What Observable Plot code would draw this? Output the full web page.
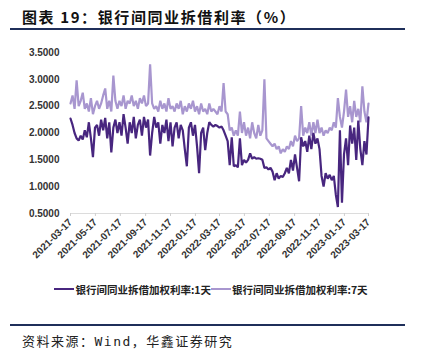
<!DOCTYPE html>
<html><head><meta charset="utf-8">
<script src="https://cdn.jsdelivr.net/npm/d3@7"></script>
<script src="https://cdn.jsdelivr.net/npm/@observablehq/plot@0.6"></script>
<style>
body{margin:0;background:#fff;}
#wrap{position:relative;width:422px;height:354px;overflow:hidden;font-family:"Noto Sans CJK SC",sans-serif;}
#title{position:absolute;left:22px;top:6px;font-size:15px;font-weight:bold;letter-spacing:1.6px;color:#111;white-space:nowrap;}
.rule{position:absolute;left:10px;width:395px;height:2px;background:#1f2f5a;}
#chart{position:absolute;left:0;top:35px;}
#legend{position:absolute;left:0;width:422px;top:280px;text-align:center;font-size:10.5px;font-weight:bold;color:#222;white-space:nowrap;}
.sw{display:inline-block;width:20px;height:2px;vertical-align:middle;margin-right:1px;}
#src{position:absolute;left:22px;top:331px;font-size:13px;letter-spacing:1.5px;color:#222;white-space:nowrap;font-family:"DejaVu Sans Mono","Noto Sans CJK SC",monospace;}
</style></head>
<body><div id="wrap">
<div id="title">图表 19：银行间同业拆借利率（%）</div>
<div class="rule" style="top:28px"></div>
<div id="chart"></div>
<div id="legend"></div>
<div class="rule" style="top:324px"></div>
<div id="src">资料来源：Wind，华鑫证券研究</div>
</div>
<script>
const seriesNames = ["银行间同业拆借加权利率:1天", "银行间同业拆借加权利率:7天"];
const seriesColors = ["#48267f", "#a896cf"];
const startDate = "2021-03-17";
const stepDays = 5;
const tickLabels = ["2021-03-17","2021-05-17","2021-07-17","2021-09-17","2021-11-17","2022-01-17","2022-03-17","2022-05-17","2022-07-17","2022-09-17","2022-11-17","2023-01-17","2023-03-17"];
const yTicks = [0.5,1.0,1.5,2.0,2.5,3.0,3.5];
const rate1d = [2.27,2.15,2.0,1.9,1.86,1.95,1.88,2.05,1.92,2.2,1.9,1.55,2.1,2.15,1.95,2.25,2.05,2.28,1.9,2.2,
1.64,2.1,2.25,2.0,2.2,1.95,2.35,2.1,1.8,2.2,2.0,2.3,1.9,2.15,2.25,1.95,2.3,2.1,2.25,1.58,
2.0,2.3,2.1,2.2,1.8,2.15,2.0,2.25,1.85,2.2,1.75,2.1,2.2,1.9,2.15,2.05,1.7,1.38,2.1,2.2,
1.95,2.15,1.75,1.25,2.0,2.1,1.68,2.0,2.2,2.15,2.12,2.15,2.13,2.1,2.12,2.05,1.95,1.85,1.4,1.92,
1.38,1.4,1.36,1.9,1.4,1.5,1.45,1.5,1.62,1.52,1.55,1.52,1.53,1.52,1.5,1.35,1.36,1.32,1.35,1.28,
1.12,1.25,1.15,1.2,1.18,1.25,1.35,1.25,1.5,1.3,1.6,1.35,1.1,1.92,1.75,1.85,1.65,1.95,1.7,2.0,
1.8,1.9,1.7,1.2,1.0,1.25,1.15,1.22,1.12,1.2,0.85,0.62,2.05,0.7,1.6,1.9,1.4,2.14,1.8,2.1,
1.5,2.23,1.7,1.4,1.85,1.6,2.29];
const rate7d = [2.55,2.7,2.45,2.98,2.5,2.6,2.75,2.45,2.55,2.4,2.65,2.35,2.5,2.6,2.45,2.55,2.7,2.83,2.45,2.6,
2.4,3.07,2.6,2.45,2.6,2.5,2.7,2.45,2.6,2.55,2.7,2.5,2.6,2.45,2.65,2.55,2.7,2.5,2.55,3.28,
2.55,2.45,2.5,2.4,2.6,2.45,2.55,2.4,2.65,2.45,2.5,2.4,2.55,2.45,2.6,2.35,2.5,2.4,2.55,2.45,
2.6,2.4,2.5,2.35,2.55,2.4,2.45,2.35,2.55,2.4,2.45,2.4,2.35,2.5,2.4,2.93,2.4,2.35,2.05,2.1,
1.95,2.05,1.95,2.4,2.0,2.2,1.95,2.1,1.9,2.2,2.0,1.9,2.15,1.95,2.05,3.0,1.9,1.85,1.8,1.75,
1.8,1.7,1.75,1.62,1.7,1.65,1.75,1.7,1.85,1.75,1.95,1.85,1.9,2.5,1.95,2.1,2.0,2.2,1.95,2.2,
2.0,2.25,2.0,2.1,1.95,2.05,2.0,2.1,2.05,2.2,2.1,2.65,2.3,2.1,2.4,2.81,2.3,2.5,2.2,2.6,
2.3,2.45,2.2,2.87,2.4,2.2,2.55];

const parse = d3.utcParse("%Y-%m-%d");
const t0 = parse(startDate);
const rows = [];
[rate1d, rate7d].forEach((arr, s) => arr.forEach((v, i) => rows.push({date: d3.utcDay.offset(t0, i*stepDays), value: v, series: seriesNames[s]})));
const tickDates = tickLabels.map(parse);

const chart = Plot.plot({
  width: 422, height: 240,
  marginLeft: 70, marginRight: 54, marginTop: 17, marginBottom: 62,
  style: {fontFamily: "'Liberation Sans', Arial, sans-serif", background: "transparent"},
  x: {type: "utc", domain: [tickDates[0], tickDates[tickDates.length-1]]},
  y: {domain: [0.5, 3.5]},
  color: {domain: seriesNames, range: seriesColors},
  marks: [
    Plot.ruleY([0.5], {stroke: "#dcdcdc"}),
    Plot.axisX({ticks: tickDates, tickFormat: d3.utcFormat("%Y-%m-%d"), tickRotate: -45, tickSize: 3, tickPadding: 4, stroke: "#cfcfcf", fill: "#333", fontSize: 10, fontWeight: "bold", label: null}),
    Plot.axisY({ticks: yTicks, tickFormat: d3.format(".4f"), tickSize: 0, tickPadding: 11, fill: "#333", fontSize: 10, fontWeight: "bold", label: null}),
    Plot.lineY(rows.filter(d => d.series === seriesNames[1]), {x: "date", y: "value", stroke: "series", strokeWidth: 2.2, strokeLinejoin: "miter"}),
    Plot.lineY(rows.filter(d => d.series === seriesNames[0]), {x: "date", y: "value", stroke: "series", strokeWidth: 2.2, strokeLinejoin: "miter"})
  ]
});
document.getElementById("chart").appendChild(chart);
document.getElementById("legend").innerHTML = seriesNames.map((n, i) =>
  `<span class="sw" style="background:${seriesColors[i]}"></span><span style="vertical-align:middle">${n}</span>`).join("");
</script>
</body></html>
